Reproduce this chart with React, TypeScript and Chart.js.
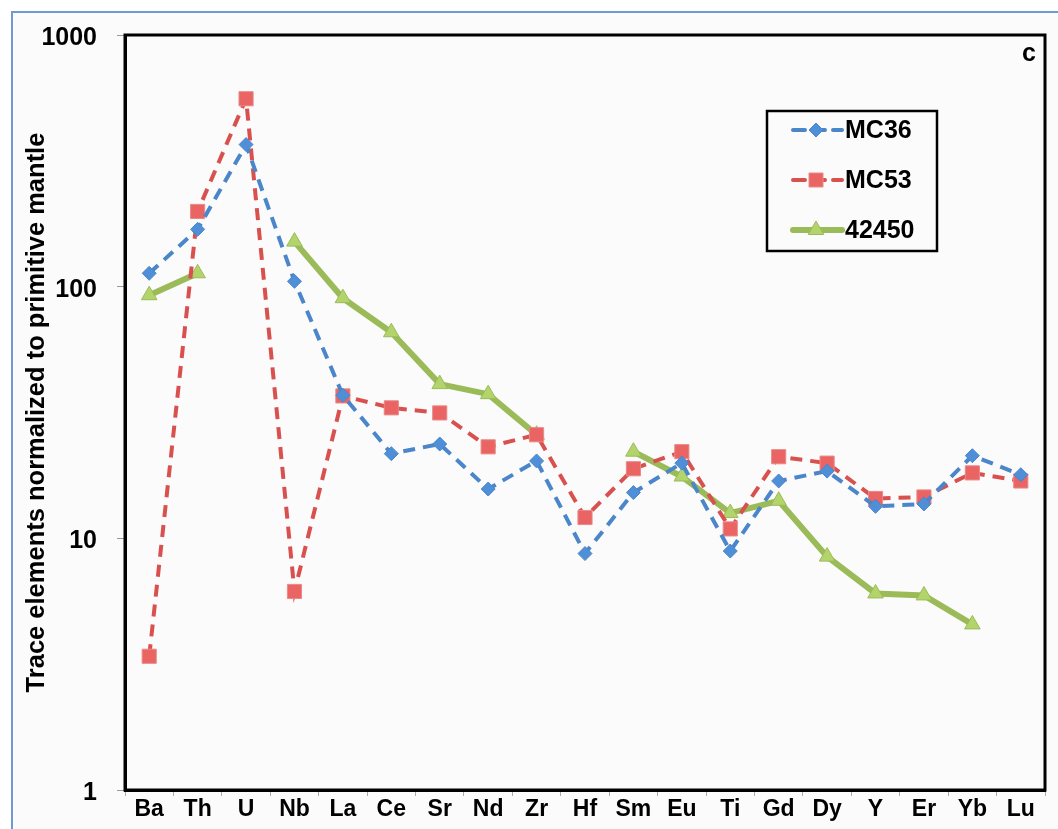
import React, { useEffect, useRef } from 'react';
import { Chart, registerables } from 'chart.js';

Chart.register(...registerables);

const elements = ['Ba', 'Th', 'U', 'Nb', 'La', 'Ce', 'Sr', 'Nd', 'Zr', 'Hf', 'Sm', 'Eu', 'Ti', 'Gd', 'Dy', 'Y', 'Er', 'Yb', 'Lu'];
const mc36 = [113, 169, 367, 105, 37, 21.7, 23.7, 15.7, 20.3, 8.7, 15.2, 19.9, 8.9, 16.9, 18.5, 13.4, 13.7, 21.3, 17.9];
const mc53 = [3.4, 199, 558, 6.15, 36.8, 33, 31.5, 23.1, 25.8, 12.1, 18.9, 22.1, 10.9, 21.1, 19.9, 14.4, 14.6, 18.2, 16.9];
const s42450 = [92.5, 113, null, 151, 90, 65.9, 41, 37.4, 25.8, null, 22.1, 17.6, 12.6, 14.1, 8.46, 6.04, 5.93, 4.55, null];
const yTicks = [1, 10, 100, 1000];
const seriesNames = ['MC36', 'MC53', '42450'];
const panelLabel = 'c';
const yTitle = 'Trace elements normalized to primitive mantle';

const FONT = "'Liberation Sans', Arial, sans-serif";
const BLUE = '#4a86c9';
const BLUE_FILL = '#4f8fd8';
const RED = '#d9514f';
const RED_FILL = '#e96462';
const GREEN = '#9bbb59';
const GREEN_FILL = '#b3d46a';

function drawMarker(ctx: CanvasRenderingContext2D, kind: string, x: number, y: number) {
  ctx.save();
  ctx.setLineDash([]);
  ctx.beginPath();
  if (kind === 'diamond') {
    const r = 7;
    ctx.moveTo(x, y - r); ctx.lineTo(x + r, y); ctx.lineTo(x, y + r); ctx.lineTo(x - r, y); ctx.closePath();
    ctx.fillStyle = BLUE_FILL; ctx.strokeStyle = BLUE; ctx.lineWidth = 1;
  } else if (kind === 'square') {
    const h = 7;
    ctx.rect(x - h, y - h, 2 * h, 2 * h);
    ctx.fillStyle = RED_FILL; ctx.strokeStyle = '#e88a88'; ctx.lineWidth = 1;
  } else {
    const r = 9;
    ctx.moveTo(x, y - r); ctx.lineTo(x + r * 0.866, y + r * 0.5); ctx.lineTo(x - r * 0.866, y + r * 0.5); ctx.closePath();
    ctx.fillStyle = GREEN_FILL; ctx.strokeStyle = GREEN; ctx.lineWidth = 1;
  }
  ctx.fill(); ctx.stroke();
  ctx.restore();
}

const framePlugin = {
  id: 'frame',
  beforeDatasetsDraw(chart: any) {
    const { ctx, chartArea } = chart;
    ctx.save();
    ctx.strokeStyle = '#000';
    ctx.lineWidth = 3;
    ctx.strokeRect(chartArea.left, chartArea.top, chartArea.right - chartArea.left, chartArea.bottom - chartArea.top);
    ctx.restore();
  },
  afterDraw(chart: any) {
    const { ctx } = chart;
    ctx.save();
    ctx.fillStyle = '#000';
    ctx.font = `bold 25px ${FONT}`;
    ctx.textAlign = 'center';
    ctx.textBaseline = 'middle';
    ctx.fillText(panelLabel, 1029, 54);
    ctx.lineWidth = 2.5;
    ctx.strokeStyle = '#000';
    ctx.strokeRect(767, 111, 170, 140);
    const rows = [
      { y: 130, color: BLUE, dash: [12, 8], width: 4, marker: 'diamond' },
      { y: 180, color: RED, dash: [12, 8], width: 4, marker: 'square' },
      { y: 230, color: GREEN, dash: [], width: 6, marker: 'triangle' },
    ];
    rows.forEach((r, i) => {
      ctx.save();
      ctx.strokeStyle = r.color;
      ctx.lineWidth = r.width;
      ctx.lineCap = 'round';
      ctx.setLineDash(r.dash);
      ctx.beginPath();
      ctx.moveTo(793, r.y);
      ctx.lineTo(842, r.y);
      ctx.stroke();
      ctx.restore();
      drawMarker(ctx, r.marker, 816, r.y);
      ctx.fillStyle = '#000';
      ctx.font = `bold 25px ${FONT}`;
      ctx.textAlign = 'left';
      ctx.textBaseline = 'middle';
      ctx.fillText(seriesNames[i], 845, r.y + 1);
    });
    ctx.restore();
  },
};

export default function App() {
  const ref = useRef<HTMLCanvasElement | null>(null);
  useEffect(() => {
    if (!ref.current) return;
    Chart.defaults.font.family = FONT;
    const chart = new Chart(ref.current, {
      type: 'line',
      data: {
        labels: elements,
        datasets: [
          {
            label: seriesNames[0], data: mc36, borderColor: BLUE, backgroundColor: BLUE_FILL,
            borderWidth: 4, borderDash: [12, 8], pointStyle: 'rectRot', pointRadius: 7,
            pointBackgroundColor: BLUE_FILL, pointBorderColor: BLUE, pointBorderWidth: 1, tension: 0,
          },
          {
            label: seriesNames[1], data: mc53, borderColor: RED, backgroundColor: RED_FILL,
            borderWidth: 4, borderDash: [12, 8], pointStyle: 'rect', pointRadius: 10,
            pointBackgroundColor: RED_FILL, pointBorderColor: '#e88a88', pointBorderWidth: 1, tension: 0,
          },
          {
            label: seriesNames[2], data: s42450 as any, borderColor: GREEN, backgroundColor: GREEN_FILL,
            borderWidth: 6, pointStyle: 'triangle', pointRadius: 9, spanGaps: false,
            pointBackgroundColor: GREEN_FILL, pointBorderColor: GREEN, pointBorderWidth: 1, tension: 0,
          },
        ],
      },
      options: {
        responsive: false,
        animation: false,
        layout: { padding: { top: 33, right: 13, left: 0, bottom: 0 } },
        plugins: { legend: { display: false }, tooltip: { enabled: false } },
        scales: {
          x: {
            type: 'category',
            offset: true,
            grid: { offset: true, drawOnChartArea: false, drawTicks: true, tickLength: 6, color: '#aaaaaa' },
            border: { display: true, color: '#000', width: 3 },
            ticks: { font: { family: FONT, weight: 'bold', size: 23 }, color: '#000', padding: 0, maxRotation: 0, autoSkip: false },
            afterFit: (s: any) => { s.height = 39; },
          },
          y: {
            type: 'logarithmic',
            min: 1,
            max: 1000,
            afterBuildTicks: (s: any) => { s.ticks = yTicks.map((v) => ({ value: v })); },
            ticks: { callback: (v: any) => String(v), font: { family: FONT, weight: 'bold', size: 25 }, color: '#000', padding: 20, labelOffset: 3 },
            grid: { drawOnChartArea: false, drawTicks: true, tickLength: 8, color: '#999999' },
            border: { display: true, color: '#000', width: 3 },
            title: { display: true, text: yTitle, font: { family: FONT, weight: 'bold', size: 25.5 }, color: '#000', padding: { top: 22, bottom: 0 } },
            afterFit: (s: any) => { s.width = 125; },
          },
        },
      } as any,
      plugins: [framePlugin],
    });
    return () => chart.destroy();
  }, []);

  return (
    <div style={{ position: 'fixed', left: 0, top: 0, width: 1058, height: 829, background: '#ffffff', overflow: 'hidden' }}>
      <div style={{ position: 'absolute', left: 11, top: 11, width: 1100, height: 900, border: '2px solid #6d9bd1', background: '#fbfbfb' }} />
      <canvas ref={ref} width={1058} height={829} style={{ position: 'absolute', left: 0, top: 0 }} />
    </div>
  );
}
